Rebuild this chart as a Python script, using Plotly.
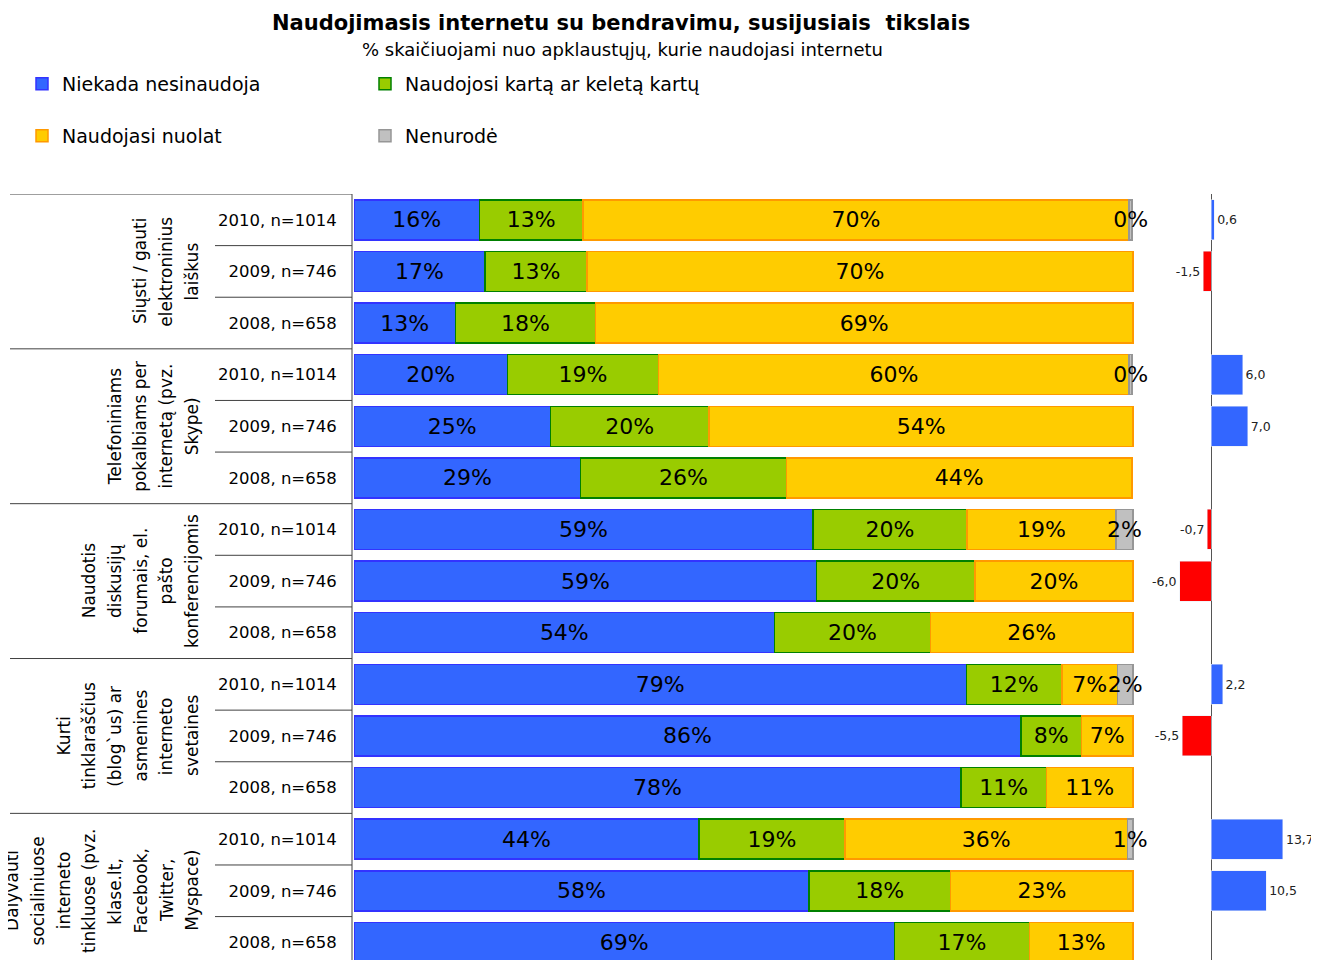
import plotly.graph_objects as go

# the page puts the figure 8px in from the top-left corner
OFF = 8
W, H = 1319 - OFF, 960 - OFF

# ---- data ----
group_lines = [
    ["Siųsti / gauti", "elektroninius", "laiškus"],
    ["Telefoniniams", "pokalbiams per", "internetą (pvz.", "Skype)"],
    ["Naudotis", "diskusijų", "forumais, el.", "pašto", "konferencijomis"],
    ["Kurti", "tinklaraščius", "(blog`us) ar", "asmenines", "interneto", "svetaines"],
    ["Dalyvauti", "socialiniuose", "interneto", "tinkluose (pvz.", "klase.lt,", "Facebook,",
     "Twitter,", "Myspace)"],
]
years = ["2010, n=1014", "2009, n=746", "2008, n=658"]

never = [16.1, 16.8, 13.0, 19.7, 25.2, 29.1, 58.9, 59.4, 54.0, 78.6, 85.6, 77.9, 44.3, 58.4, 69.4]
once = [13.3, 13.1, 18.0, 19.4, 20.4, 26.4, 19.8, 20.3, 20.0, 12.3, 7.8, 11.0, 18.7, 18.2, 17.3]
regular = [70.1, 70.1, 69.0, 60.4, 54.4, 44.4, 19.1, 20.3, 26.0, 7.1, 6.6, 11.1, 36.3, 23.4, 13.3]
no_answer = [0.4, None, None, 0.4, None, None, 2.2, None, None, 2.0, None, None, 0.7, None, None]
change = [0.6, -1.5, None, 6.0, 7.0, None, -0.7, -6.0, None, 2.2, -5.5, None, 13.7, 10.5, None]

series = [
    ("Niekada nesinaudoja", never, "#3366FF", "#3333FF", "legend"),
    ("Naudojosi kartą ar keletą kartų", once, "#99CC00", "#008000", "legend2"),
    ("Naudojasi nuolat", regular, "#FFCC00", "#FF9900", "legend3"),
    ("Nenurodė", no_answer, "#C0C0C0", "#969696", "legend4"),
]

FONT = "Verdana, DejaVu Sans, sans-serif"
rows = list(range(len(never)))
row_labels = [years[i % 3] for i in rows]


# positions below are given in screen pixels of the reference
def px_x(p):
    return (p - OFF) / W


def px_y(p):
    return 1 - (p - OFF) / H


fig = go.Figure()

for name, vals, fill, edge, leg in series:
    fig.add_trace(go.Bar(
        name=name, y=rows, x=vals, orientation="h", legend=leg,
        marker=dict(color=fill, line=dict(color=edge, width=1.5)),
        texttemplate="%{x:.0f}%", textposition="inside", insidetextanchor="middle",
        constraintext="none", textangle=0, cliponaxis=False,
        textfont=dict(family=FONT, size=22, color="black"),
        hoverinfo="skip",
    ))

fig.add_trace(go.Bar(
    y=rows, x=change, orientation="h", xaxis="x2", yaxis="y", showlegend=False,
    marker=dict(color=["#FF0000" if (v is not None and v < 0) else "#3366FF" for v in change]),
    texttemplate="%{x:.1f}", textposition="outside", cliponaxis=False,
    textfont=dict(family=FONT, size=12.5, color="#222222"),
    hoverinfo="skip",
))

top_px = 194
row_px = 51.6
first_px = 220
y_bottom = (960 - first_px) / row_px

bar_left, pct_px = 354, 7.79

shapes = []
# vertical divider between labels and bars
shapes.append(dict(type="line", xref="paper", yref="paper", x0=px_x(352), x1=px_x(352),
                   y0=0, y1=px_y(top_px), line=dict(color="#404040", width=1)))
for g in range(len(group_lines)):
    shapes.append(dict(type="line", xref="paper", yref="y", x0=px_x(10), x1=px_x(352),
                       y0=g * 3 - 0.5, y1=g * 3 - 0.5, line=dict(color="#404040", width=1)))
    for k in (0.5, 1.5):
        shapes.append(dict(type="line", xref="paper", yref="y", x0=px_x(215), x1=px_x(352),
                           y0=g * 3 + k, y1=g * 3 + k, line=dict(color="#404040", width=1)))

annotations = [
    dict(text="<b>Naudojimasis internetu su bendravimu, susijusiais  tikslais</b>",
         xref="paper", yref="paper", x=px_x(621), y=px_y(23), showarrow=False,
         font=dict(family=FONT, size=21, color="black"), xanchor="center", yanchor="middle"),
    dict(text="% skaičiuojami nuo apklaustųjų, kurie naudojasi internetu",
         xref="paper", yref="paper", x=px_x(622), y=px_y(50), showarrow=False,
         font=dict(family=FONT, size=18, color="black"), xanchor="center", yanchor="middle"),
]
for g, lines in enumerate(group_lines):
    n = len(lines)
    for k, line in enumerate(lines):
        annotations.append(dict(
            text=line, xref="paper", yref="y", x=px_x(192 - (n - 1 - k) * 25.7), y=g * 3 + 1,
            textangle=-90, showarrow=False, xanchor="center", yanchor="middle",
            font=dict(family=FONT, size=17, color="black"),
        ))

zero_px = 1211
unit_px = 5.25
x2_left, x2_right = 1140, 1319

legend_style = dict(font=dict(family=FONT, size=19, color="black"), bgcolor="rgba(0,0,0,0)",
                    xanchor="left", yanchor="middle", orientation="h")

fig.update_layout(
    width=W, height=H, autosize=False,
    margin=dict(l=0, r=0, t=0, b=0),
    paper_bgcolor="white", plot_bgcolor="rgba(0,0,0,0)",
    barmode="stack", bargap=0.225,
    separators=", ",
    font=dict(family=FONT, color="black"),
    xaxis=dict(domain=[px_x(bar_left), px_x(bar_left + pct_px * 101)], range=[0, 101],
               visible=False, fixedrange=True),
    xaxis2=dict(domain=[px_x(x2_left), 1.0], anchor="y",
                range=[(x2_left - zero_px) / unit_px, (x2_right - zero_px) / unit_px],
                showgrid=False, showticklabels=False, zeroline=True,
                zerolinecolor="#555555", zerolinewidth=1, fixedrange=True),
    yaxis=dict(domain=[0, px_y(top_px)], range=[y_bottom, -0.5],
               tickmode="array", tickvals=rows, ticktext=row_labels,
               ticks="outside", ticklen=13, tickcolor="rgba(0,0,0,0)",
               tickfont=dict(family=FONT, size=16.5, color="black"),
               showgrid=False, zeroline=False, showline=False, fixedrange=True),
    legend=dict(x=px_x(22), y=px_y(84), **legend_style),
    legend2=dict(x=px_x(365), y=px_y(84), **legend_style),
    legend3=dict(x=px_x(22), y=px_y(136), **legend_style),
    legend4=dict(x=px_x(365), y=px_y(136), **legend_style),
    shapes=shapes,
    annotations=annotations,
)

fig.write_html("out.html")
